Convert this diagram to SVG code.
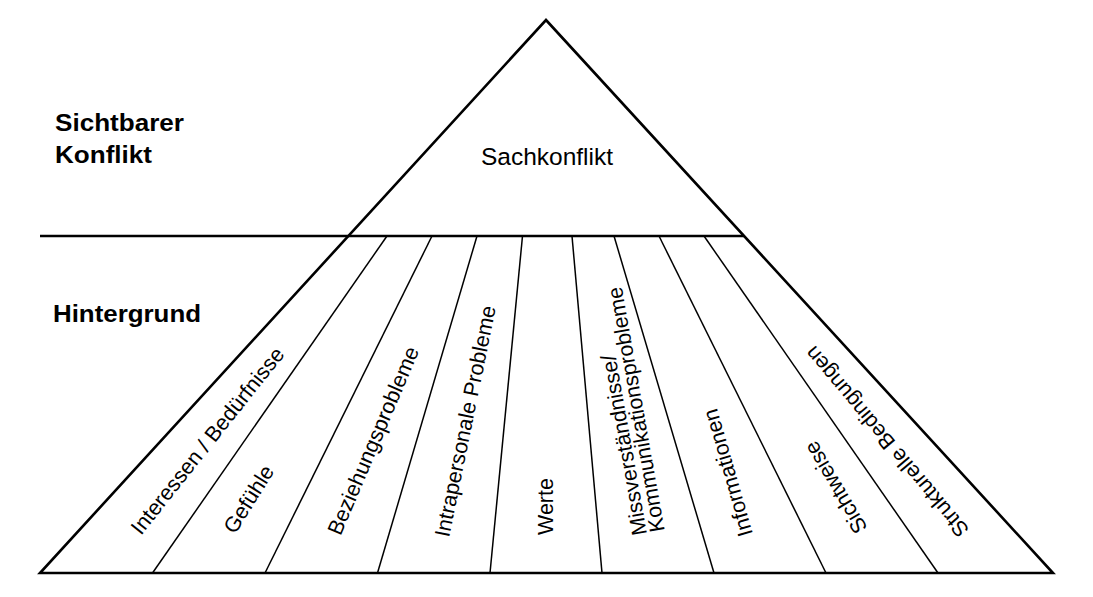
<svg xmlns="http://www.w3.org/2000/svg" width="1093" height="597" viewBox="0 0 1093 597">
<style>
.outer{fill:none;stroke:#000;stroke-width:2.6;stroke-linejoin:miter}
.div{fill:none;stroke:#000;stroke-width:1.5}
.head{font-family:"Liberation Sans",Arial,sans-serif;font-weight:bold;font-size:23px;fill:#000}
.lbl{font-family:"Liberation Sans",Arial,sans-serif;font-size:21.5px;fill:#000}
.main{font-family:"Liberation Sans",Arial,sans-serif;font-size:24.5px;fill:#000}
</style>
<rect x="0" y="0" width="1093" height="597" fill="#fff"/>
<g id="pyramid">
  <polygon class="outer" points="546,20 1053,573 40,573"/>
  <line class="outer" x1="40" y1="236" x2="744" y2="236"/>
</g>
<g id="dividers">
  <line class="div" x1="152.5" y1="573" x2="387" y2="236"/>
  <line class="div" x1="265" y1="573" x2="432" y2="236"/>
  <line class="div" x1="377.5" y1="573" x2="477" y2="236"/>
  <line class="div" x1="490" y1="573" x2="522.5" y2="236"/>
  <line class="div" x1="602" y1="573" x2="572" y2="236"/>
  <line class="div" x1="714" y1="573" x2="614" y2="236"/>
  <line class="div" x1="826" y1="573" x2="659" y2="236"/>
  <line class="div" x1="938" y1="573" x2="704" y2="236"/>
</g>
<g id="level-labels">
  <text class="head" x="55" y="130.5" textLength="129" lengthAdjust="spacingAndGlyphs">Sichtbarer</text>
  <text class="head" x="55" y="162.5" textLength="97" lengthAdjust="spacingAndGlyphs">Konflikt</text>
  <text class="head" x="53" y="322" textLength="148" lengthAdjust="spacingAndGlyphs">Hintergrund</text>
</g>
<g id="sachkonflikt">
  <text class="main" x="547" y="165" text-anchor="middle">Sachkonflikt</text>
</g>
<g id="interessen"><text class="lbl" transform="translate(141,536) rotate(-51.5)">Interessen / Bedürfnisse</text></g>
<g id="gefuehle"><text class="lbl" transform="translate(235,535) rotate(-58)">Gefühle</text></g>
<g id="beziehung"><text class="lbl" transform="translate(340.5,536.5) rotate(-67)">Beziehungsprobleme</text></g>
<g id="intrapersonal"><text class="lbl" transform="translate(449,538) rotate(-78.5)">Intrapersonale Probleme</text></g>
<g id="werte"><text class="lbl" transform="translate(553,535) rotate(-90)">Werte</text></g>
<g id="missverstaendnisse"><text class="lbl" transform="translate(647,534) rotate(-100)"><tspan x="0" y="0">Missverständnisse/</tspan><tspan x="0" y="18">Kommunikationsprobleme</tspan></text></g>
<g id="informationen"><text class="lbl" transform="translate(753,534) rotate(-106)">Informationen</text></g>
<g id="sichtweise"><text class="lbl" transform="translate(868,528) rotate(-120.5)">Sichtweise</text></g>
<g id="strukturelle"><text class="lbl" transform="translate(970,529.5) rotate(-130)">Strukturelle Bedingungen</text></g>
</svg>
